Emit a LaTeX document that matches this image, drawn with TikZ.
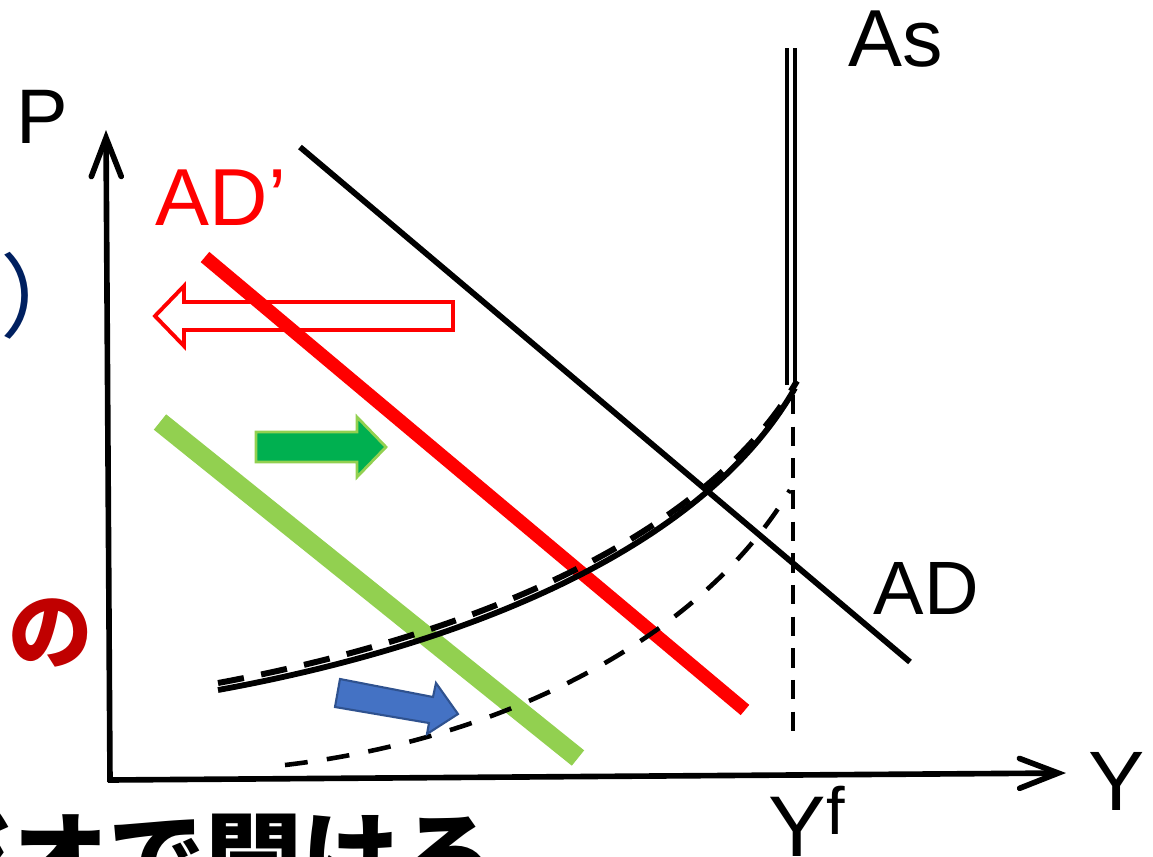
\documentclass[tikz,border=0pt]{standalone}
\usepackage{fontspec}
\setmainfont{Liberation Sans}
\newfontfamily\jpfont{Noto Sans CJK JP}
\usepackage{xcolor}
\usetikzlibrary{arrows.meta}

\definecolor{verdeclaro}{HTML}{92D050}
\definecolor{verdeseta}{HTML}{00B050}
\definecolor{azulseta}{HTML}{4472C4}
\definecolor{azulborda}{HTML}{2F528F}
\definecolor{azulescuro}{HTML}{002060}
\definecolor{vermelhoescuro}{HTML}{C00000}

\begin{document}
\begin{tikzpicture}[
    x=0.01cm, y=-0.01cm,
    eixo/.style={line width=1.6pt, -{Straight Barb[length=11pt, width=8.5pt, line cap=round]}},
    curva/.style={line width=1.65pt},
    tracejado/.style={line width=1.7pt, dash pattern=on 7.5pt off 5pt},
    rotulo/.style={inner sep=0pt, anchor=base west},
    texto/.style={inner sep=0pt, anchor=base west, font=\jpfont\bfseries}
]
    \useasboundingbox (0,0) rectangle (1153,856);

    % eixos
    \coordinate (o) at (110,782);
    \coordinate (ptopo) at (106,130);
    \coordinate (yfim) at (1066,773);
    \draw[eixo] (o) -- (ptopo);
    \draw[eixo] (108,780) -- (yfim);

    % retas de demanda
    \draw[curva] (300,147) -- (910,662);
    \draw[red, line width=3.8pt] (205,257) -- (745,710);
    \draw[verdeclaro, line width=5.6pt] (160,422) -- (578,758);

    % oferta agregada
    \draw[line width=1.05pt, double, double distance=1.3pt] (791,48) -- (791,385);
    \draw[curva] (218,690) .. controls (450,648) and (700,555) .. (795,388);
    \draw[tracejado] (218,683) .. controls (450,640) and (700,547) .. (797,381);
    \draw[line width=1.3pt, dash pattern=on 6.5pt off 5.5pt] (285,765) .. controls (500,740) and (700,640) .. (790,490);
    \draw[line width=1.4pt, dash pattern=on 5.5pt off 3.5pt] (793,395) -- (793,740);

    % setas
    \draw[red, line width=1.1pt] (155,316) -- (184,286) -- (184,302) -- (453,302)
        -- (453,330) -- (184,330) -- (184,346) -- cycle;
    \draw[verdeclaro, fill=verdeseta, line width=0.8pt] (256,432) -- (357,432) -- (357,417)
        -- (386,447) -- (357,477) -- (357,462) -- (256,462) -- cycle;
    \draw[azulborda, fill=azulseta, line width=0.6pt] (340,679) -- (433,697) -- (436,683)
        -- (458,714) -- (427,734) -- (429,723) -- (335,707) -- cycle;

    % rotulos
    \node[rotulo, font=\fontsize{22}{26}\selectfont] (p) at (16,143) {P};
    \node[rotulo, font=\fontsize{23}{27}\selectfont] (as) at (848,66) {As};
    \node[rotulo, font=\fontsize{23}{27}\selectfont, text=red] (adlinha) at (155,225) {AD’};
    \node[rotulo, font=\fontsize{21.5}{25}\selectfont] (ad) at (873,614) {AD};
    \node[rotulo, font=\fontsize{24}{28}\selectfont] (y) at (1088,810) {Y};
    \node[rotulo, font=\fontsize{24.5}{28}\selectfont] (yf) at (768,856)
        {Y\raisebox{6pt}{\fontsize{19}{22}\selectfont f}};

    % textos cortados
    \node[texto, font=\jpfont\fontsize{26}{30}\selectfont, text=azulescuro] (parente) at (0,330) {）};
    \node[texto, font=\jpfont\bfseries\fontsize{24}{28}\selectfont, text=vermelhoescuro] (no) at (8,662) {の};
    \node[texto, font=\jpfont\bfseries\fontsize{27.6}{30}\selectfont] (radio) at (-86,893) {ジオで聞ける};
\end{tikzpicture}
\end{document}
